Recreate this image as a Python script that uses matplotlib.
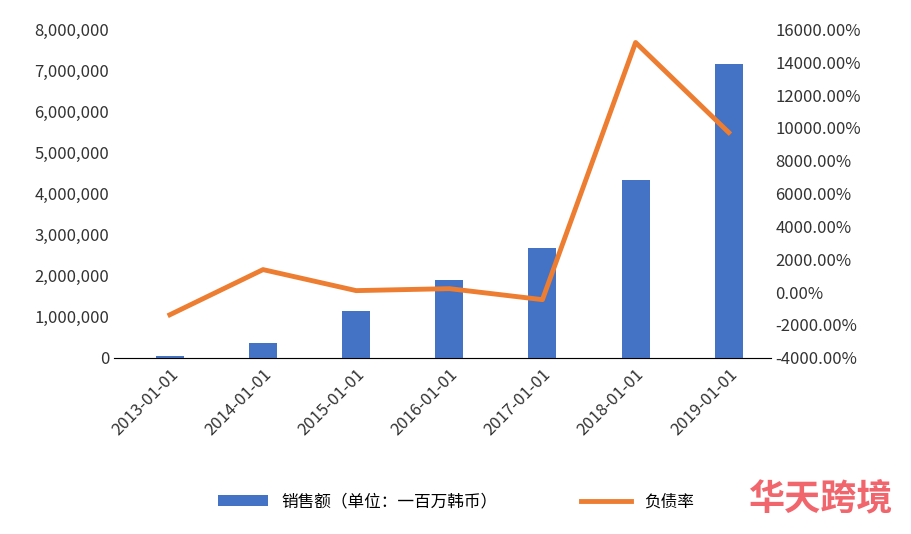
import matplotlib.pyplot as plt
from matplotlib.ticker import FuncFormatter

plt.rcParams["font.family"] = ["Noto Sans CJK SC", "DejaVu Sans"]

dates = ["2013-01-01", "2014-01-01", "2015-01-01", "2016-01-01",
         "2017-01-01", "2018-01-01", "2019-01-01"]
sales = [50000, 350000, 1130000, 1900000, 2680000, 4340000, 7150000]
debt_ratio = [-1380, 1370, 90, 210, -460, 15200, 9720]  # percent

fig = plt.figure(figsize=(9.12, 5.34), dpi=100)
ax = fig.add_axes([0.125, 0.33, 0.72, 0.615])
ax2 = ax.twinx()

x = range(len(dates))
ax.bar(x, sales, width=0.3, color="#4472C4", label="销售额（单位：一百万韩币）")
ax2.plot(x, debt_ratio, color="#ED7D31", linewidth=3.5, label="负债率")

ax.set_ylim(0, 8000000)
ax.set_yticks(range(0, 8000001, 1000000))
ax.yaxis.set_major_formatter(FuncFormatter(lambda v, p: f"{int(v):,}"))
ax2.set_ylim(-4000, 16000)
ax2.set_yticks(range(-4000, 16001, 2000))
ax2.yaxis.set_major_formatter(FuncFormatter(lambda v, p: f"{v:.2f}%"))
ax.set_xlim(-0.6, 6.45)
ax.set_xticks(list(x))
ax.set_xticklabels(dates, rotation=45, ha="right", rotation_mode="anchor")

for a in (ax, ax2):
    for s in ("top", "left", "right"):
        a.spines[s].set_visible(False)
    a.tick_params(length=0, labelsize=12, colors="#333333")
ax.spines["bottom"].set_color("#BFBFBF")
ax.tick_params(axis="x", pad=6)

h1, l1 = ax.get_legend_handles_labels()
h2, l2 = ax2.get_legend_handles_labels()
fig.legend(h1 + h2, l1 + l2, loc="center", bbox_to_anchor=(0.5, 0.06), ncol=2,
           frameon=False, fontsize=12, columnspacing=5, handlelength=3)

fig.text(0.9, 0.065, "华天跨境", color="#F0545C", fontsize=26, fontweight="bold",
         ha="center", va="center", alpha=0.9)

fig.savefig("out.png", dpi=100)
